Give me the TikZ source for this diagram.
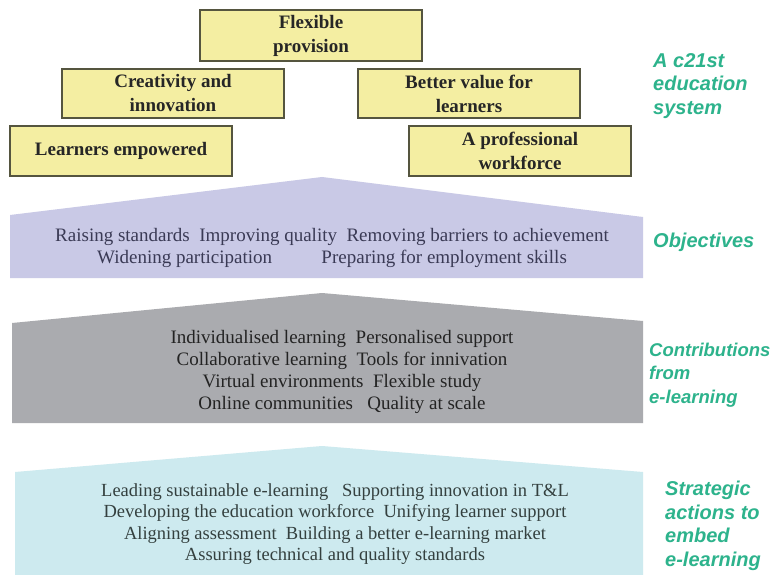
\documentclass[tikz,border=0pt]{standalone}
\usepackage{fontspec}
\setmainfont{Liberation Serif}
\newfontfamily\tagfont{Liberation Sans}
\definecolor{boxfill}{HTML}{F4EEA2}
\definecolor{boxline}{HTML}{55553F}
\definecolor{objfill}{HTML}{C9C9E6}
\definecolor{objtext}{HTML}{3A3A55}
\definecolor{elfill}{HTML}{AAABAF}
\definecolor{eltext}{HTML}{232323}
\definecolor{stfill}{HTML}{CDEAEF}
\definecolor{sttext}{HTML}{34403F}
\definecolor{tagcol}{HTML}{2DB38C}
\tikzset{
  goalbox/.style={draw=boxline, fill=boxfill, line width=1.1pt,
    minimum width=222pt, inner sep=0pt, align=center,
    font=\fontsize{19}{24}\selectfont\bfseries, text=black!85},
  bandtext/.style={align=center, inner sep=0pt},
  tag/.style={anchor=west, align=left, inner sep=0pt, text=tagcol,
    font=\tagfont\fontsize{20}{23.5}\selectfont\bfseries\itshape}
}
\begin{document}
\begin{tikzpicture}[x=1pt,y=-1pt]
\useasboundingbox (0,0) rectangle (772,575);
\clip (0,0) rectangle (772,575);
\fill[white] (0,0) rectangle (772,575);

% goal boxes of the top tier
\node[goalbox, minimum height=51pt] (flex) at (311,35.5) {Flexible\\provision};
\node[goalbox, minimum height=49pt] (creat) at (173,93.5) {Creativity and\\innovation};
\node[goalbox, minimum height=49pt] (value) at (469,93.5) {Better value for\\learners};
\node[goalbox, minimum height=50pt] (learn) at (121,151) {Learners empowered};
\node[goalbox, minimum height=50pt] (prof) at (520,151) {A professional\\workforce};

% roof-shaped bands
\fill[objfill] (10,215) -- (322,177) -- (643,217) -- (643,278) -- (10,278) -- cycle;
\fill[elfill] (12,323) -- (322,293) -- (643,321) -- (643,423) -- (12,423) -- cycle;
\fill[stfill] (15,472) -- (322,446) -- (643,472) -- (643,580) -- (15,580) -- cycle;

% band contents
\node[bandtext, text=objtext, font=\fontsize{19}{22}\selectfont] (obj) at (332,247.5)
  {Raising standards\ \ Improving quality\ \ Removing barriers to achievement\\
   Widening participation\hspace{2.6em}Preparing for employment skills};
\node[bandtext, text=eltext, font=\fontsize{19}{21.7}\selectfont] (contrib) at (342,372)
  {Individualised learning\ \ Personalised support\\
   Collaborative learning\ \ Tools for innivation\\
   Virtual environments\ \ Flexible study\\
   Online communities\ \ \ Quality at scale};
\node[bandtext, text=sttext, font=\fontsize{18.5}{21.5}\selectfont] (strat) at (335,524)
  {Leading sustainable e-learning\ \ \ Supporting innovation in T\&L\\
   Developing the education workforce\ \ Unifying learner support\\
   Aligning assessment\ \ Building a better e-learning market\\
   Assuring technical and quality standards};

% tier captions
\node[tag] (tsys) at (653,86) {A c21st\\education\\system};
\node[tag] (tobj) at (653,242) {Objectives};
\node[tag, font=\tagfont\fontsize{18.5}{23.5}\selectfont\bfseries\itshape] (tcon) at (649,375)
  {Contributions\\from\\e-learning};
\node[tag] (tstr) at (665,526) {Strategic\\actions to\\embed\\e-learning};
\end{tikzpicture}
\end{document}
